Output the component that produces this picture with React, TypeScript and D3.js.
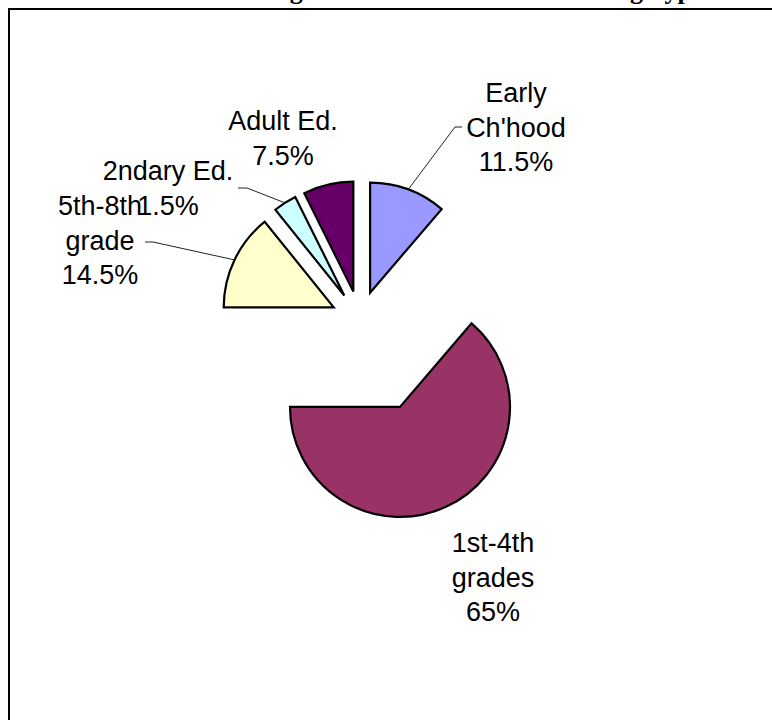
import * as d3 from "d3";
import { useEffect, useRef } from "react";

// slice data, clockwise from 12 o'clock
const categories = ["Early\nCh'hood", "1st-4th\ngrades", "5th-8th\ngrade", "2ndary Ed.", "Adult Ed."];
const values = [11.5, 65, 14.5, 3.5, 7.5];
const valueLabels = ["11.5%", "65%", "14.5%", "1.5%", "7.5%"];
const colors = ["#9999FF", "#993366", "#FFFFCC", "#CCFFFF", "#660066"];

// layout
const W = 772;
const H = 720;
const cx = 360;
const cy = 320;
const radius = 110;
const explode = [0.265, 0.87, 0.265, 0.265, 0.265]; // fraction of radius
const labelPos: [number, number][] = [
  [516, 102],
  [493, 552],
  [100, 215],
  [168, 180],
  [283, 130],
];
// leader elbow (x, y) and short horizontal tail, null = no leader
const leaders: ([number, number, number] | null)[] = [
  [455, 127, 462],
  null,
  [153, 242, 145],
  [247, 188, 238],
  null,
];
const lineH = 34.5;

type Datum = { name: string; value: number; label: string; color: string };

export default function App() {
  const ref = useRef<SVGSVGElement | null>(null);

  useEffect(() => {
    const svg = d3.select(ref.current);
    svg.selectAll("*").remove();

    const data: Datum[] = values.map((v, i) => ({
      name: categories[i],
      value: v,
      label: valueLabels[i],
      color: colors[i],
    }));

    // title (mostly above the visible area)
    svg
      .append("text")
      .attr("x", 192)
      .attr("y", -1)
      .attr("font-family", "'Liberation Serif', 'Times New Roman', serif")
      .attr("font-weight", "bold")
      .attr("font-size", 26)
      .attr("fill", "black")
      .text("Percentage of Students in Each Teaching Type");

    // chart frame
    svg
      .append("rect")
      .attr("x", 9)
      .attr("y", 9)
      .attr("width", W + 100)
      .attr("height", H + 100)
      .attr("fill", "white")
      .attr("stroke", "black")
      .attr("stroke-width", 2);

    const pie = d3
      .pie<Datum>()
      .sort(null)
      .value((d) => d.value);
    const arcs = pie(data);

    const arc = d3
      .arc<d3.PieArcDatum<Datum>>()
      .innerRadius(0)
      .outerRadius(radius);

    const g = svg.append("g").attr("transform", `translate(${cx},${cy})`);

    const offset = (d: d3.PieArcDatum<Datum>, i: number) => {
      const mid = (d.startAngle + d.endAngle) / 2;
      const dist = explode[i] * radius;
      return [Math.sin(mid) * dist, -Math.cos(mid) * dist];
    };

    g.selectAll("path.slice")
      .data(arcs)
      .enter()
      .append("path")
      .attr("class", "slice")
      .attr("transform", (d, i) => {
        const [x, y] = offset(d, i);
        return `translate(${x},${y})`;
      })
      .attr("d", arc)
      .attr("fill", (d) => d.data.color)
      .attr("stroke", "black")
      .attr("stroke-width", 2.2);

    // leader lines
    arcs.forEach((d, i) => {
      const l = leaders[i];
      if (!l) return;
      const [ox, oy] = offset(d, i);
      const mid = (d.startAngle + d.endAngle) / 2;
      const ax = cx + ox + Math.sin(mid) * radius;
      const ay = cy + oy - Math.cos(mid) * radius;
      svg
        .append("polyline")
        .attr("points", `${ax},${ay} ${l[0]},${l[1]} ${l[2]},${l[1]}`)
        .attr("fill", "none")
        .attr("stroke", "#222")
        .attr("stroke-width", 1);
    });

    // labels
    arcs.forEach((d, i) => {
      const lines = [...d.data.name.split("\n"), d.data.label];
      const [lx, ly] = labelPos[i];
      const t = svg
        .append("text")
        .attr("text-anchor", "middle")
        .attr("font-family", "'Liberation Sans', Arial, sans-serif")
        .attr("font-size", 27)
        .attr("fill", "black");
      lines.forEach((s, k) => {
        t.append("tspan")
          .attr("x", lx)
          .attr("y", ly + k * lineH)
          .text(s);
      });
    });
  }, []);

  return (
    <svg
      ref={ref}
      width={W}
      height={H}
      style={{ position: "absolute", left: 0, top: 0, display: "block", background: "white" }}
    ></svg>
  );
}
